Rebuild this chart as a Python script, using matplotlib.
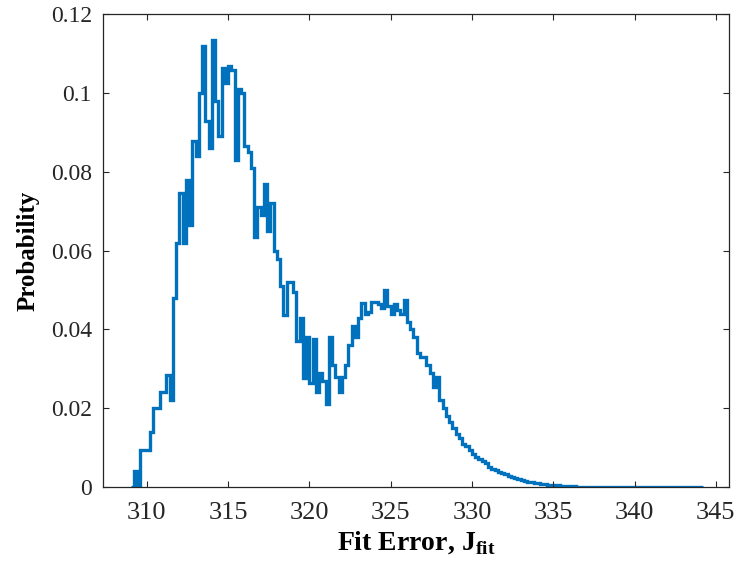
import numpy as np
import matplotlib
matplotlib.use("Agg")
import matplotlib.pyplot as plt

plt.rcParams['font.family'] = ['Liberation Serif', 'DejaVu Serif']
plt.rcParams['mathtext.fontset'] = 'custom'
plt.rcParams['mathtext.rm'] = 'Liberation Serif'
plt.rcParams['mathtext.bf'] = 'Liberation Serif:bold'

# histogram of fit error, bins 0.2 wide starting at 309.0
bin_start = 309.0
bin_width = 0.2
prob = [
    0.0, 0.004, 0.0, 0.0094, 0.0094, 0.0094, 0.014, 0.020, 0.020, 0.024,    # 309.0 - 310.8
    0.024, 0.0285, 0.022, 0.048, 0.062, 0.0747, 0.062, 0.078, 0.0666, 0.0878,  # 311.0 - 312.8
    0.084, 0.100, 0.112, 0.093, 0.086, 0.1135, 0.098, 0.089, 0.1065, 0.1027,   # 313.0 - 314.8
    0.107, 0.106, 0.083, 0.101, 0.100, 0.0865, 0.085, 0.081, 0.0636, 0.071,    # 315.0 - 316.8
    0.069, 0.077, 0.065, 0.072, 0.060, 0.058, 0.051, 0.0437, 0.052, 0.052,     # 317.0 - 318.8
    0.0496, 0.037, 0.043, 0.0276, 0.038, 0.0265, 0.0376, 0.024, 0.029, 0.027,  # 319.0 - 320.8
    0.021, 0.038, 0.031, 0.028, 0.024, 0.028, 0.031, 0.036, 0.041, 0.038,      # 321.0 - 322.8
    0.043, 0.0467, 0.044, 0.0445, 0.047, 0.047, 0.0465, 0.0455, 0.050, 0.046,  # 323.0 - 324.8
    0.044, 0.0465, 0.045, 0.044, 0.0475, 0.042, 0.040, 0.038, 0.034, 0.033,    # 325.0 - 326.8
    0.033, 0.031, 0.029, 0.0255, 0.028, 0.022, 0.020, 0.018, 0.0165, 0.015,    # 327.0 - 328.8
    0.0135, 0.0125, 0.011, 0.0105, 0.0095, 0.0085, 0.0076, 0.007, 0.0065, 0.006,  # 329.0 - 330.8
    0.0052, 0.0047, 0.0043, 0.0038, 0.0036, 0.0032, 0.0028, 0.0025, 0.0023, 0.002,  # 331.0 - 332.8
    0.0018, 0.0016, 0.0014, 0.0012, 0.0011, 0.0009, 0.0008, 0.0007, 0.0006, 0.0005,  # 333.0 - 334.8
    0.0004, 0.0004, 0.0003, 0.0003, 0.0002, 0.0002, 0.0002, 0.0001, 0.0001, 0.0001,  # 335.0 - 336.8
    0.0001, 0.0001, 0.0001, 0.0001, 0.0001, 0.0001, 0.0001, 0.0001, 0.0001, 0.0001,  # 337.0 - 338.8
    0.0001, 0.0001, 0.0001, 0.0001, 0.0001, 0.0001, 0.0001, 0.0001, 0.0001, 0.0001,  # 339.0 - 340.8
    0.0001, 0.0001, 0.0001, 0.0001, 0.0001, 0.0001, 0.0001, 0.0001, 0.0001, 0.0001,  # 341.0 - 342.8
    0.0001, 0.0001, 0.0001, 0.0001, 0.0001, 0.0001,                                  # 343.0 - 344.0
]
x_ticks = [310, 315, 320, 325, 330, 335, 340, 345]
y_ticks = [0, 0.02, 0.04, 0.06, 0.08, 0.1, 0.12]
y_ticklabels = ['0', '0.02', '0.04', '0.06', '0.08', '0.1', '0.12']

edges = bin_start + bin_width * np.arange(len(prob) + 1)

fig = plt.figure(figsize=(7.38, 5.75), dpi=100)
ax = fig.add_axes([0.1396, 0.153, 0.848, 0.822])

ax.stairs(prob, edges, color='#0072BD', linewidth=2.4)

ax.set_xlim(307.31, 345.8)
ax.set_ylim(0, 0.12)
ax.set_xticks(x_ticks)
ax.set_yticks(y_ticks)
ax.set_yticklabels(y_ticklabels)
ax.tick_params(direction='in', length=4, width=0.8, top=True, right=True,
               labelsize=17, colors='#262626', pad=8)
ax.tick_params(axis='x', labelsize=19, pad=11)
for s in ax.spines.values():
    s.set_color('#262626')
    s.set_linewidth(0.9)

ax.set_xlabel(r'Fit Error, J$_\mathbf{fit}$', fontsize=20, fontweight='bold', labelpad=4)
ax.set_ylabel('Probability', fontsize=18, fontweight='bold', labelpad=8)

fig.savefig('out.png', dpi=100)
